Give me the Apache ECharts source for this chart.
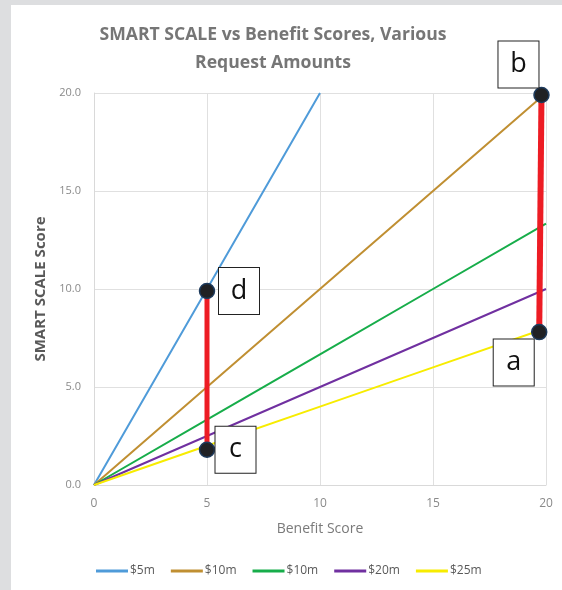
<!DOCTYPE html>
<html><head><meta charset="utf-8">
<script src="https://cdn.jsdelivr.net/npm/echarts@6/dist/echarts.min.js"></script>
<style>html,body{margin:0;padding:0;background:#dddee0;}#c{width:562px;height:590px;}</style>
</head><body><div id="c"></div>
<script>
// Data
const benefitX = [0, 5, 10, 15, 20];
const legendLabels = ['$5m', '$10m', '$10m', '$20m', '$25m'];
const s5m  = [0, 10, 20, null, null];
const s10m = [0, 5, 10, 15, 20];
const s10mGreen = [0, 3.33, 6.67, 10, 13.33];
const s20m = [0, 2.5, 5, 7.5, 10];
const s25m = [0, 2, 4, 6, 8];
const gapLeft  = [[5, 1.8], [5, 9.9]];
const gapRight = [[19.7, 7.8], [19.8, 19.9]];
const pointNames = ['c', 'd', 'a', 'b'];
const pointValues = [[5, 1.8], [5, 9.9], [19.7, 7.8], [19.8, 19.9]];
const yTicks = [0, 5, 10, 15, 20];

const colors = ['#4f9bd9', '#c08f32', '#17ad4a', '#7030a0', '#f7ec00'];
const seriesVals = [s5m, s10m, s10mGreen, s20m, s25m];
const ids = ['L0', 'L1', 'L2', 'L3', 'L4'];

const labelOffsets = { c: [28.5, 0], d: [32, 0], a: [-25.5, 30.5], b: [-23, -30.5] };

const lineSeries = seriesVals.map((vals, i) => ({
  name: ids[i], type: 'line', symbol: 'none', z: 2,
  lineStyle: { width: 2, color: colors[i] }, itemStyle: { color: colors[i] },
  data: benefitX.map((x, j) => vals[j] === null ? null : [x, vals[j]])
}));

const chart = echarts.init(document.getElementById('c'));
chart.setOption({
  animation: false,
  graphic: [{ type: 'rect', left: 11, top: 5, shape: { width: 551, height: 585 }, style: { fill: '#ffffff' }, z: -10 }],
  title: {
    text: 'SMART SCALE vs Benefit Scores, Various\nRequest Amounts',
    left: 268, top: 16, textAlign: 'center',
    textStyle: { fontFamily: 'Open Sans', fontWeight: 'bold', fontSize: 17.6, color: '#767676', lineHeight: 28 }
  },
  grid: { left: 94, right: 16, top: 93, bottom: 105 },
  legend: {
    data: ids, bottom: 8, left: 91, itemGap: 16, itemWidth: 32, itemHeight: 3, icon: 'rect',
    formatter: n => legendLabels[ids.indexOf(n)],
    textStyle: { color: '#595959', fontSize: 12, fontFamily: 'Open Sans', padding: [0, 0, 0, -3] }
  },
  xAxis: {
    type: 'value', min: 0, max: 20, interval: 5,
    name: 'Benefit Score', nameLocation: 'middle', nameGap: 37,
    nameTextStyle: { color: '#7a7a7a', fontSize: 14, fontFamily: 'Open Sans' },
    axisLine: { lineStyle: { color: '#d9d9d9', width: 1 } }, axisTick: { show: false },
    axisLabel: { color: '#8a8a8a', fontSize: 12, margin: 13, fontFamily: 'Open Sans' },
    splitLine: { show: true, lineStyle: { color: '#e0e0e0' } }
  },
  yAxis: {
    type: 'value', min: 0, max: 20, interval: 5,
    name: 'SMART SCALE Score', nameLocation: 'middle', nameGap: 37,
    nameTextStyle: { color: '#595959', fontSize: 15, fontWeight: 'bold', fontFamily: 'Open Sans' },
    axisLine: { show: true, lineStyle: { color: '#d9d9d9' } }, axisTick: { show: false },
    axisLabel: { color: '#8a8a8a', fontSize: 11, margin: 13, fontFamily: 'Open Sans', formatter: v => v.toFixed(1) },
    splitLine: { show: true, lineStyle: { color: '#e0e0e0' } }
  },
  series: lineSeries.concat([
    { type: 'line', symbol: 'none', z: 5, lineStyle: { width: 5, color: '#ed1c24' }, data: gapLeft },
    { type: 'line', symbol: 'none', z: 5, lineStyle: { width: 6, color: '#ed1c24' }, data: gapRight },
    {
      type: 'scatter', z: 10, symbolSize: 15,
      itemStyle: { color: '#202124', borderColor: '#1d3a5c', borderWidth: 1.5, opacity: 1 },
      data: pointNames.map((n, i) => ({
        name: n, value: pointValues[i],
        label: {
          show: true, formatter: n, offset: labelOffsets[n], position: 'inside',
          backgroundColor: '#ffffff', borderColor: '#222222', borderWidth: 1,
          width: 40, height: 46, lineHeight: 46, align: 'center', verticalAlign: 'middle',
          fontSize: 27, color: '#111111', fontFamily: 'Open Sans'
        }
      }))
    }
  ])
});
</script></body></html>
